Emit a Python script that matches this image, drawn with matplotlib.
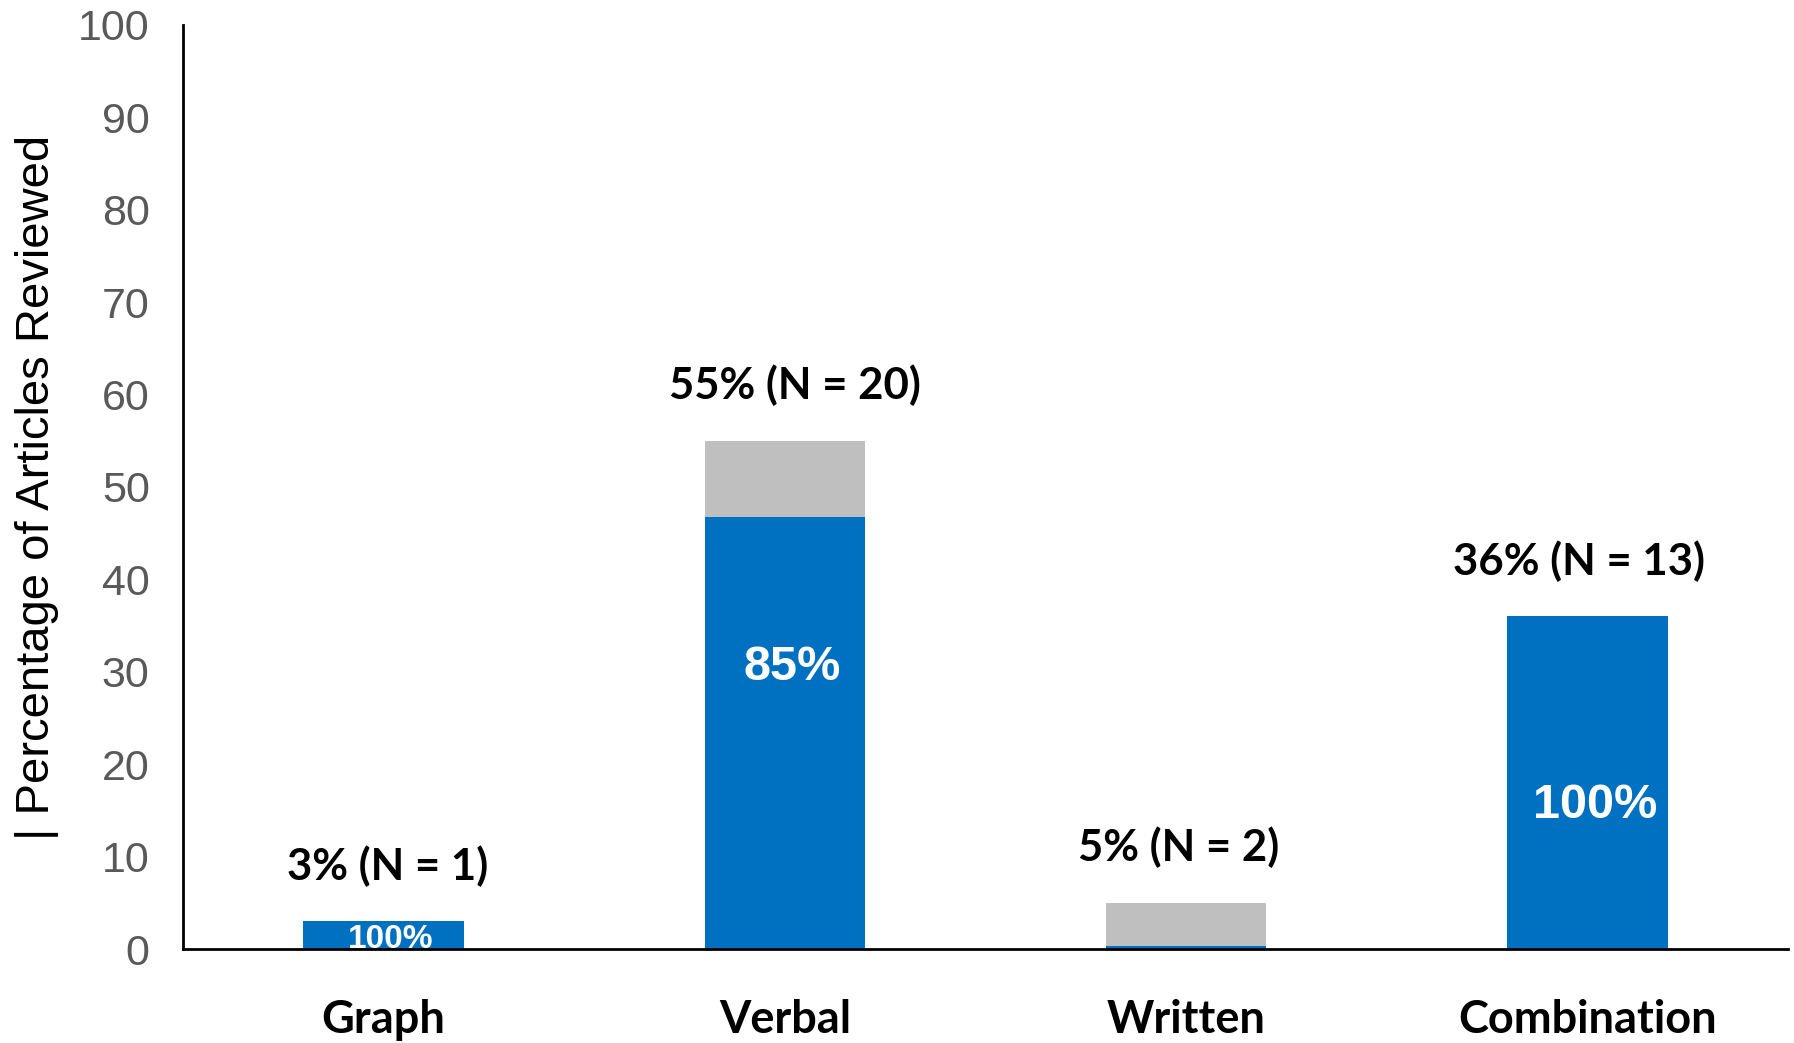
import numpy as np
import matplotlib
matplotlib.use('Agg')
from matplotlib import pyplot as plt

# share of reviewed articles by feedback format
categories = ['Graph', 'Verbal', 'Written', 'Combination']
totals = [3, 55, 5, 36]
counts = [1, 20, 2, 13]
# part of each bar shown in blue (percent of that bar)
blue_share = [100, 85, 7, 100]
inner_labels = ['100%', '85%', '', '100%']

blue = '#0070C0'
grey = '#BFBFBF'

fig = plt.figure(figsize=(17.94, 10.43), dpi=100)
ax = fig.add_axes([0.102, 0.0901, 0.8947, 0.886])

x = np.arange(len(categories))
totals_arr = np.array(totals, dtype=float)
blue_part = totals_arr * np.array(blue_share) / 100.0
grey_part = totals_arr - blue_part

ax.bar(x, blue_part, width=0.4, color=blue, zorder=2)
ax.bar(x, grey_part, width=0.4, bottom=blue_part, color=grey, zorder=2)

label_font = ['Lato', 'DejaVu Sans']

# count labels above the bars
top_dx = [0.01, 0.025, -0.02, -0.022]
for i in range(len(categories)):
    ax.text(x[i] + top_dx[i], totals[i] + 6, f'{totals[i]}% (N = {counts[i]})',
            ha='center', va='center', fontsize=31.5, fontweight='bold',
            family=label_font, color='black')

# share labels inside the blue parts
inner_y = [1.0, 30.5, 0, 15.5]
inner_size = [24, 35, 0, 35]
for i, txt in enumerate(inner_labels):
    if not txt:
        continue
    ax.text(x[i] + 0.018, inner_y[i], txt, ha='center', va='center',
            fontsize=inner_size[i], fontweight='bold',
            family='Liberation Sans', color='white', zorder=3)

ax.set_xlim(-0.5, 3.5)
ax.set_ylim(0, 100)
ax.set_yticks(range(0, 101, 10))
ax.set_xticks(x)
ax.set_xticklabels(categories, fontsize=32.5, fontweight='bold', family=label_font)
ax.tick_params(axis='x', length=0, pad=36)
ax.tick_params(axis='y', length=0, pad=24, labelsize=31, labelcolor='#595959')
for lab in ax.get_yticklabels():
    lab.set_family('Liberation Sans')

ax.set_ylabel('| Percentage of Articles Reviewed', fontsize=34,
              family='Liberation Sans', labelpad=14)

for side in ['top', 'right']:
    ax.spines[side].set_visible(False)
for side in ['left', 'bottom']:
    ax.spines[side].set_linewidth(2)
    ax.spines[side].set_color('black')

fig.savefig('out.png', dpi=100)
